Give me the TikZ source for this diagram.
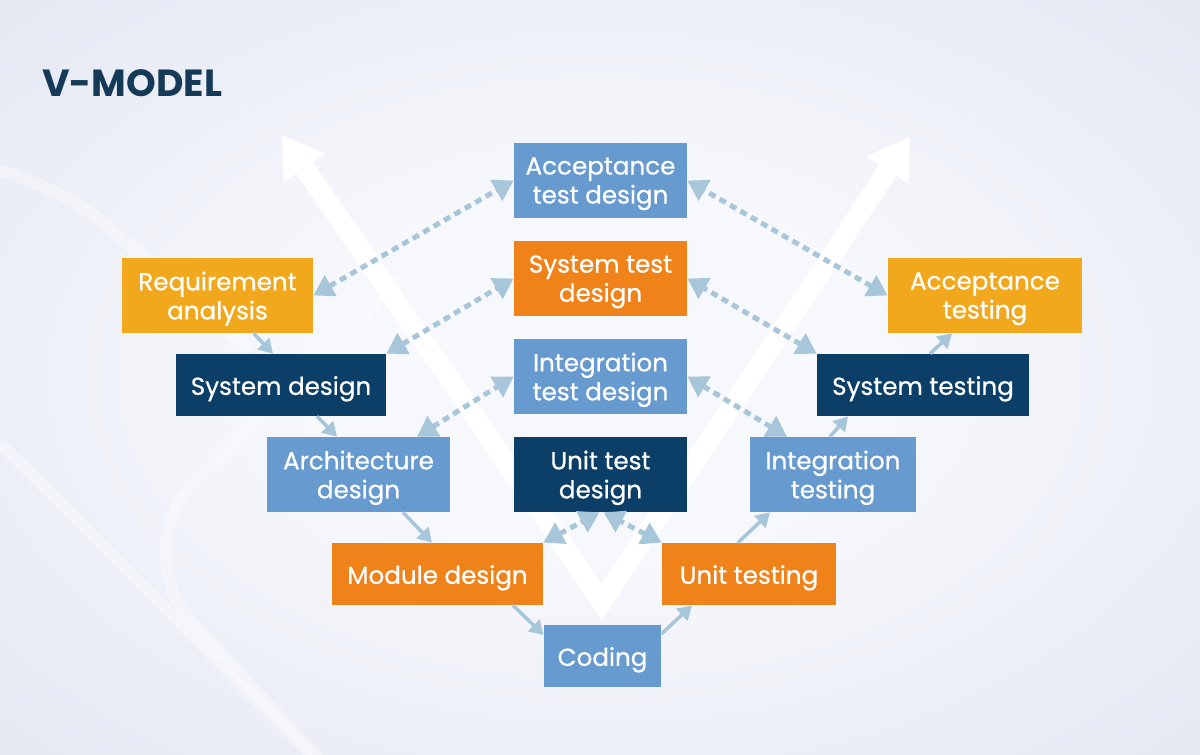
\documentclass[tikz,border=0pt]{standalone}
\usepackage{fontspec}
\setmainfont{Poppins}
\usepackage{tikz}
\usepackage{xcolor}
\usetikzlibrary{arrows.meta}
\usetikzlibrary{calc}

\definecolor{boxBlue}{RGB}{103,154,206}
\definecolor{boxOrange}{RGB}{240,130,26}
\definecolor{boxYellow}{RGB}{242,168,28}
\definecolor{boxNavy}{RGB}{12,63,104}
\definecolor{linkBlue}{RGB}{168,198,217}
\definecolor{titleNavy}{RGB}{20,58,88}
\definecolor{bgEdge}{RGB}{213,219,235}
\definecolor{bgCenter}{RGB}{247,248,252}

\pgfdeclareradialshading{bgglow}{\pgfpoint{0bp}{0bp}}{color(0bp)=(bgCenter); color(12bp)=(bgCenter); color(55bp)=(bgEdge); color(80bp)=(bgEdge)}

\tikzset{
  stage/.style = {rectangle, inner sep=0pt, align=center, text=white, minimum height=1.24cm,
                  font=\fontsize{14}{16.5}\selectfont\addfontfeatures{FakeBold=0.6},
                  execute at begin node={\rule{0pt}{15pt}}},
  blueStage/.style = {stage, fill=boxBlue},
  orangeStage/.style = {stage, fill=boxOrange},
  yellowStage/.style = {stage, fill=boxYellow},
  navyStage/.style = {stage, fill=boxNavy},
  twoLine/.style = {minimum height=1.5cm, text depth=-1.2pt},
  flow/.style = {draw=linkBlue, line width=0.07cm, -{Triangle[length=0.28cm,width=0.32cm]}},
  verify/.style = {draw=linkBlue, line width=0.1cm, dash pattern=on 0.14cm off 0.1cm,
                   {Triangle[length=0.4cm,width=0.46cm]}-{Triangle[length=0.4cm,width=0.46cm]}},
  vArrow/.style = {draw=white, line width=0.4cm, line join=miter,
                   {Triangle[length=0.8cm,width=0.96cm]}-{Triangle[length=0.8cm,width=0.96cm]}},
  deco/.style = {draw=white, draw opacity=0.35, line width=0.24cm}
}

\begin{document}
\begin{tikzpicture}[x=0.02cm, y=-0.02cm]
    \useasboundingbox (0,0) rectangle (1200,754);
    \shade[shading=bgglow] (0,0) rectangle (1200,754);

    \draw[deco, rounded corners=2cm] (400,280) -- (125,550) -- (330,771);
    \draw[deco, rounded corners=1.6cm] (-20,165) -- (45,172) -- (250,350);
    \draw[deco] (0,443) -- (311,754);

    \node[anchor=base west, inner sep=0pt, text=titleNavy, font=\fontsize{21.5}{21.5}\selectfont\bfseries] (title) at (42,96) {V-MODEL};

    \coordinate (vleft) at (282,135);
    \coordinate (vbottom) at (602,602);
    \coordinate (vright) at (910,137);
    \draw[vArrow] (vleft) -- (vbottom) -- (vright);

    \node[blueStage, twoLine, minimum width=3.46cm] (atd) at (600.5,180.5) {Acceptance\\test design};
    \node[orangeStage, twoLine, minimum width=3.46cm] (std) at (600.5,278.5) {System test\\design};
    \node[blueStage, twoLine, minimum width=3.46cm] (itd) at (600.5,376.5) {Integration\\test design};
    \node[navyStage, twoLine, minimum width=3.46cm] (utd) at (600.5,474.5) {Unit test\\design};

    \node[yellowStage, twoLine, minimum width=3.82cm] (req) at (217.5,295.5) {Requirement\\analysis};
    \node[navyStage, minimum width=4.2cm] (sysd) at (281,385) {System design};
    \node[blueStage, twoLine, minimum width=3.66cm] (arch) at (358.5,474.5) {Architecture\\design};
    \node[orangeStage, minimum width=4.22cm] (mod) at (437.5,574) {Module design};
    \node[blueStage, minimum width=2.34cm] (cod) at (602.5,656) {Coding};
    \node[orangeStage, minimum width=3.48cm] (unit) at (749,574) {Unit testing};
    \node[blueStage, twoLine, minimum width=3.32cm] (intt) at (833,474.5) {Integration\\testing};
    \node[navyStage, minimum width=4.24cm] (syst) at (923,385) {System testing};
    \node[yellowStage, twoLine, minimum width=3.88cm] (acct) at (985,295.5) {Acceptance\\testing};

    \draw[flow] ([xshift=0.72cm]req.south) -- ([xshift=-0.16cm]sysd.north);
    \draw[flow] ([xshift=0.72cm]sysd.south) -- ([xshift=-0.43cm]arch.north);
    \draw[flow] ([xshift=0.89cm]arch.south) -- ([xshift=-0.11cm]mod.north);
    \draw[flow] ([xshift=1.51cm]mod.south) -- ([yshift=0.42cm]cod.west);
    \draw[flow] ([yshift=0.44cm]cod.east) -- ([xshift=-1.14cm]unit.south);
    \draw[flow] ([xshift=-0.22cm]unit.north) -- ([xshift=-1.26cm]intt.south);
    \draw[flow] ([xshift=-0.06cm]intt.north) -- ([xshift=-1.5cm]syst.south);
    \draw[flow] ([xshift=0.14cm]syst.north) -- ([xshift=-0.66cm]acct.south);

    \draw[verify] (req.east) -- (atd.west);
    \draw[verify] (sysd.north east) -- (std.west);
    \draw[verify] ([xshift=1.17cm]arch.north) -- (itd.west);
    \draw[verify] (mod.north east) -- ([xshift=-0.02cm]utd.south);
    \draw[verify] (unit.north west) -- ([xshift=0.06cm]utd.south);
    \draw[verify] ([xshift=-0.92cm]intt.north) -- (itd.east);
    \draw[verify] (syst.north west) -- (std.east);
    \draw[verify] (acct.west) -- (atd.east);
\end{tikzpicture}
\end{document}
